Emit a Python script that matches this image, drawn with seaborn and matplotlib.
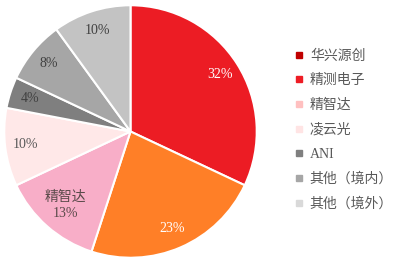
import matplotlib
matplotlib.use("Agg")
import matplotlib.pyplot as plt
import seaborn as sns
from matplotlib.lines import Line2D

categories = ["华兴源创", "精测电子", "精智达", "凌云光", "ANI", "其他（境内）", "其他（境外）"]
values = [32, 23, 13, 10, 4, 8, 10]
pie_colors = ["#EC1C24", "#FF7F27", "#F8AEC8", "#FFE8E8", "#7F7F7F", "#A6A6A6", "#C3C3C3"]
legend_colors = ["#C00000", "#EE1C24", "#FFC0C0", "#FFE4E4", "#7F7F7F", "#A6A6A6", "#D9D9D9"]
label_colors = ["white", "white", "#5A4A4A", "#595959", "#404040", "#404040", "#404040"]

sns.set_theme(style="white")
plt.rcParams["font.family"] = ["Liberation Serif", "Noto Sans CJK SC", "DejaVu Sans"]

fig = plt.figure(figsize=(3.96, 2.64), dpi=100)
ax = fig.add_axes([3 / 396, 5 / 264, 255 / 396, 255 / 264])

wedges, texts, autotexts = ax.pie(
    values, colors=pie_colors, startangle=90, counterclock=False,
    autopct=lambda p: f"{p:.0f}%", pctdistance=0.84,
    wedgeprops=dict(edgecolor="white", linewidth=1.5),
    textprops=dict(fontsize=10),
)
for i, t in enumerate(autotexts):
    t.set_color(label_colors[i])
autotexts[2].set_text(f"{categories[2]}\n{values[2]}%")
autotexts[2].set_linespacing(1.3)
x, y = autotexts[2].get_position()
autotexts[2].set_position((x * 0.93, y * 0.93))
ax.set_xlim(-1.01, 1.01)
ax.set_ylim(-1.01, 1.01)
ax.set_aspect("equal")

handles = [Line2D([0], [0], marker="s", linestyle="", markersize=4,
                  markerfacecolor=c, markeredgecolor=c) for c in legend_colors]
fig.legend(handles, categories, loc="upper left", bbox_to_anchor=(289 / 396, 1 - 44 / 264),
           frameon=False, fontsize=10, labelcolor="#595959", handlelength=0.6,
           handletextpad=0.5, labelspacing=0.82, borderaxespad=0)

fig.savefig("out.png", dpi=100)
